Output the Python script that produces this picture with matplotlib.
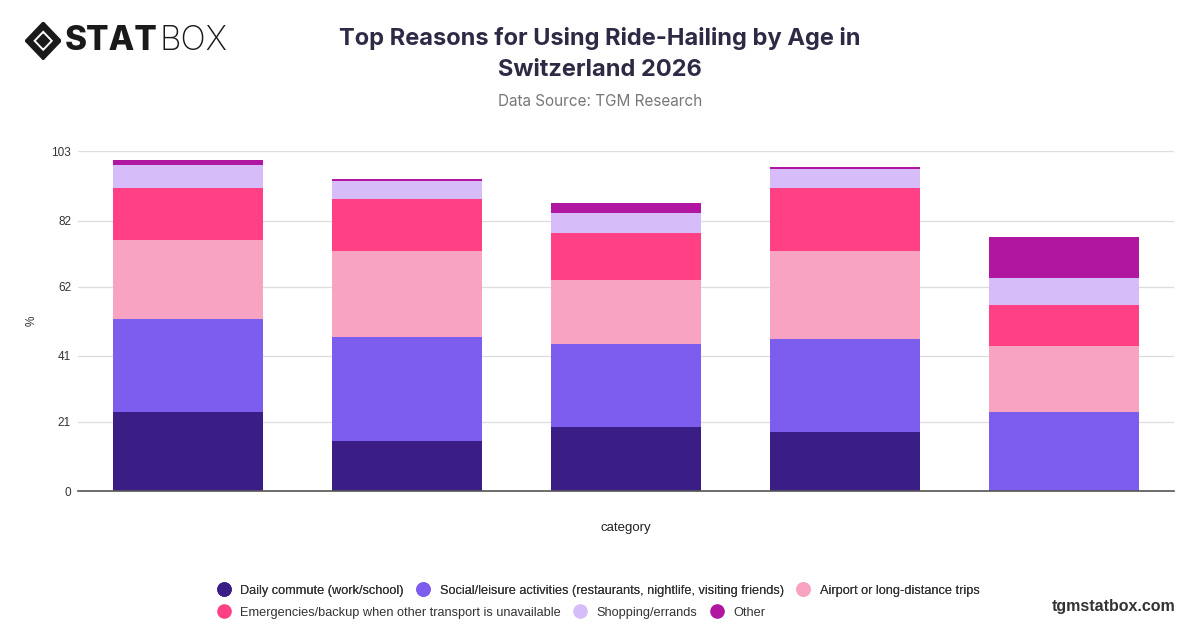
import numpy as np
import matplotlib.pyplot as plt
from matplotlib.patches import Polygon

# ------------------------------
# data
# ------------------------------
groups = ['18-24', '25-34', '35-44', '45-54', '55+']
series = [
    'Daily commute (work/school)',
    'Social/leisure activities (restaurants, nightlife, visiting friends)',
    'Airport or long-distance trips',
    'Emergencies/backup when other transport is unavailable',
    'Shopping/errands',
    'Other',
]
commute = [24.0, 15.1, 19.4, 17.9, 0.0]
social = [28.2, 31.6, 25.3, 28.1, 24.0]
airport = [24.0, 26.2, 19.2, 26.9, 20.0]
emergency = [15.8, 15.8, 14.4, 19.0, 12.3]
shopping = [6.9, 5.4, 6.1, 5.6, 8.3]
other = [1.4, 0.6, 2.9, 0.7, 12.3]
yticks = [0, 21, 41, 62, 82, 103]

colors = ['#3a1e85', '#7d5ded', '#f9a3c2', '#ff4085', '#d6bdf9', '#b0169f']

plt.rcParams['font.family'] = ['Liberation Sans', 'DejaVu Sans']

fig = plt.figure(figsize=(12, 6.28), dpi=100)
ax = fig.add_axes([0.065, 0.218, 0.913, 0.541])

x = np.arange(len(groups))
bottom = np.zeros(len(groups))
for name, vals, col in zip(series, [commute, social, airport, emergency, shopping, other], colors):
    ax.bar(x, vals, width=0.685, bottom=bottom, color=col, label=name, zorder=3)
    bottom += np.array(vals)

ax.set_xlim(-0.5, len(groups) - 0.5)
ax.set_ylim(0, 103)
ax.set_yticks(yticks)
ax.set_xticks([])
ax.tick_params(axis='y', length=0, labelsize=8.5, labelcolor='#333333', pad=5)
ax.grid(axis='y', color='#dddddd', linewidth=0.9, zorder=0)
for s in ['top', 'right', 'left']:
    ax.spines[s].set_visible(False)
ax.spines['bottom'].set_color('#555555')
ax.spines['bottom'].set_linewidth(1.2)
ax.spines['bottom'].set_zorder(4)
ax.set_ylabel('%', fontsize=8.5, color='#333333', labelpad=10)
ax.set_xlabel('category', fontsize=9.5, color='#222222', labelpad=22)

# titles
fig.text(0.5, 0.914, 'Top Reasons for Using Ride-Hailing by Age in\nSwitzerland 2026',
         ha='center', va='center', fontsize=17, fontweight='bold', color='#2d2a45',
         linespacing=1.5, family=['Inter', 'DejaVu Sans'])
fig.text(0.5, 0.838, 'Data Source: TGM Research', ha='center', va='center',
         fontsize=11, color='#777777', family=['Inter', 'DejaVu Sans'])

# legend: two rows, left-aligned, flowing row by row
handles = [plt.Line2D([], [], marker='o', linestyle='', markersize=9.5, color=c) for c in colors]
leg_kw = dict(loc='center left', frameon=False, fontsize=9.2, handletextpad=0.8,
              columnspacing=1.0, handlelength=1.0, borderpad=0, borderaxespad=0,
              labelcolor='#333333', ncol=3)
leg1 = fig.legend(handles[:3], series[:3], bbox_to_anchor=(0.181, 0.059), **leg_kw)
fig.legend(handles[3:], series[3:], bbox_to_anchor=(0.181, 0.024), **leg_kw)
fig.add_artist(leg1)

# logo
logo = fig.add_axes([0.021, 0.905, 0.03, 0.06])
logo.set_xlim(-1, 1)
logo.set_ylim(-1, 1)
logo.axis('off')
logo.add_patch(Polygon([[0, 1], [1, 0], [0, -1], [-1, 0]], closed=True, color='#1a1a1a'))
logo.add_patch(Polygon([[0, 0.55], [0.55, 0], [0, -0.55], [-0.55, 0]], closed=True,
                       facecolor='white', edgecolor='none'))
logo.add_patch(Polygon([[0, 0.35], [0.35, 0], [0, -0.35], [-0.35, 0]], closed=True, color='#1a1a1a'))
stat = fig.text(0.054, 0.935, 'STAT', ha='left', va='center', fontsize=24, fontweight='heavy',
                color='#1a1a1a', family=['Inter', 'DejaVu Sans'])
ax.annotate('BOX', xy=(1, 0.5), xycoords=stat, xytext=(1, 0), textcoords='offset points',
            ha='left', va='center', fontsize=24, fontweight='light', color='#1a1a1a',
            family=['Inter', 'DejaVu Sans'], annotation_clip=False)

fig.text(0.98, 0.034, 'tgmstatbox.com', ha='right', va='center', fontsize=11.5,
         fontweight='bold', color='#333333')

fig.savefig('out.png', dpi=100)
